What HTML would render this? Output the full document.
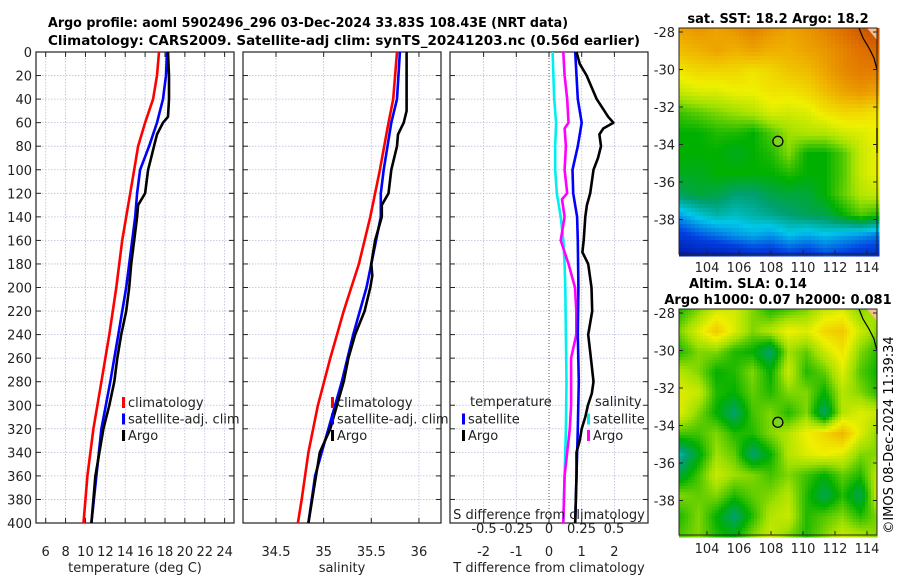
<!DOCTYPE html>
<html><head><meta charset="utf-8">
<style>
html,body{margin:0;padding:0;background:#fff;}
svg{display:block;font-family:"DejaVu Sans","Liberation Sans",sans-serif;}
</style></head>
<body>
<svg id="fig" width="900" height="580" viewBox="0 0 900 580">
<rect width="900" height="580" fill="#fff"/>
<text x="48" y="27" font-size="13" font-weight="bold" textLength="520" lengthAdjust="spacingAndGlyphs">Argo profile: aoml 5902496_296 03-Dec-2024 33.83S 108.43E (NRT data)</text>
<text x="48" y="45" font-size="13" font-weight="bold" textLength="592" lengthAdjust="spacingAndGlyphs">Climatology: CARS2009. Satellite-adj clim: synTS_20241203.nc (0.56d earlier)</text>
<text x="778" y="23" text-anchor="middle" font-size="13" font-weight="bold">sat. SST: 18.2 Argo: 18.2</text>
<text x="748" y="288" text-anchor="middle" font-size="13" font-weight="bold">Altim. SLA: 0.14</text>
<text x="778" y="304" text-anchor="middle" font-size="13" font-weight="bold">Argo h1000: 0.07 h2000: 0.081</text>
<text transform="translate(893,435) rotate(-90)" text-anchor="middle" font-size="13">©IMOS 08-Dec-2024 11:39:34</text>
<g id="panels"></g>
<g id="maps"></g>
</svg>
<script>
// ---------- data ----------
const depthTicks=[0,20,40,60,80,100,120,140,160,180,200,220,240,260,280,300,320,340,360,380,400];
const tempTicks=[6,8,10,12,14,16,18,20,22,24];
const salTicks=[34.5,35,35.5,36];
const tdiffTicks=[-2,-1,0,1,2];
const sdiffTicks=[-0.5,-0.25,0,0.25,0.5];
const sdiffLabels=["-0.5","-0.25","0","0.25","0.5"];

const tClimDepth=[0,20,40,60,80,100,120,140,160,200,240,280,320,360,400];
const tClim=[17.4,17.2,16.8,16.0,15.3,14.9,14.5,14.1,13.7,13.1,12.4,11.6,10.8,10.2,9.8];
const tSatDepth=[0,20,40,60,80,100,120,140,160,180,200,240,280,320,360,400];
const tSat=[18.2,18.1,17.8,17.2,16.4,15.5,15.2,15.0,14.7,14.4,14.1,13.3,12.5,11.6,11.1,10.6];
const tArgoDepth=[0,20,40,55,60,70,80,90,100,120,130,140,160,180,200,220,240,260,280,300,320,340,360,400];
const tArgo=[18.3,18.4,18.4,18.3,17.8,17.2,16.9,16.6,16.3,16.0,15.3,15.2,14.9,14.6,14.4,14.1,13.6,13.2,12.9,12.4,11.8,11.4,11.0,10.6];

const sClimDepth=[0,40,60,100,140,180,220,260,300,340,380,400];
const sClim=[35.77,35.73,35.68,35.59,35.49,35.37,35.21,35.07,34.94,34.84,34.77,34.73];
const sSatDepth=[0,40,60,80,100,120,140,160,200,240,280,320,360,400];
const sSat=[35.80,35.77,35.71,35.67,35.63,35.60,35.60,35.55,35.45,35.31,35.19,35.05,34.91,34.84];
const sArgoDepth=[0,20,50,60,70,80,100,120,130,140,160,180,190,200,220,240,260,280,320,340,360,400];
const sArgo=[35.87,35.87,35.87,35.84,35.78,35.77,35.71,35.68,35.61,35.61,35.54,35.50,35.51,35.49,35.43,35.33,35.26,35.21,35.07,34.96,34.92,34.84];

const dTSatDepth=[0,40,60,80,100,120,140,160,200,240,280,320,360,400];
const dTSat=[0.80,0.88,1.0,0.88,0.72,0.74,0.86,0.88,0.90,0.88,0.91,0.88,0.84,0.80];
const dTArgoDepth=[0,10,20,40,55,60,65,70,80,90,100,120,130,140,160,170,180,200,220,240,260,280,290,300,310,320,330,340,360,400];
const dTArgo=[0.84,0.94,1.15,1.46,1.81,1.97,1.66,1.54,1.59,1.50,1.36,1.26,1.16,1.11,1.06,1.02,1.20,1.30,1.32,1.20,1.28,1.36,1.31,1.19,1.11,1.0,0.94,0.84,0.84,0.80];
const dSSatDepth=[0,40,60,80,100,120,140,160,180,200,240,280,320,360,400];
const dSSat=[0.028,0.04,0.055,0.048,0.048,0.06,0.09,0.11,0.12,0.125,0.13,0.135,0.13,0.12,0.11];
const dSArgoDepth=[0,20,40,60,65,80,100,120,125,140,160,180,200,220,240,260,280,300,320,340,360,400];
const dSArgo=[0.11,0.12,0.14,0.15,0.12,0.13,0.12,0.14,0.10,0.12,0.09,0.15,0.20,0.21,0.21,0.17,0.17,0.17,0.16,0.14,0.12,0.11];

const sstGrid=[
[.80,.82,.80,.82,.85,.82,.80,.82,.85,.88,.92,.95],
[.76,.78,.80,.78,.80,.78,.78,.80,.82,.85,.88,.90],
[.70,.72,.72,.72,.70,.72,.75,.76,.80,.84,.86,.86],
[.64,.66,.66,.68,.68,.70,.70,.72,.76,.80,.82,.80],
[.54,.56,.58,.60,.62,.66,.65,.66,.70,.72,.72,.70],
[.50,.50,.52,.52,.50,.55,.60,.62,.62,.65,.66,.68],
[.50,.50,.50,.48,.50,.52,.58,.50,.50,.55,.64,.68],
[.48,.48,.50,.50,.50,.50,.52,.50,.50,.55,.64,.68],
[.44,.46,.45,.42,.42,.45,.46,.46,.50,.56,.62,.64],
[.30,.35,.38,.36,.38,.40,.42,.44,.45,.50,.55,.52],
[.18,.22,.25,.28,.30,.28,.32,.30,.32,.30,.28,.25],
[.08,.10,.10,.12,.15,.15,.18,.16,.20,.18,.15,.15]];
const slaGrid=[
[.52,.58,.65,.65,.58,.52,.55,.58,.64,.66,.58,.62],
[.58,.66,.74,.66,.58,.62,.68,.66,.72,.74,.64,.58],
[.52,.58,.58,.52,.50,.42,.60,.56,.64,.70,.58,.52],
[.62,.58,.50,.52,.58,.50,.64,.52,.56,.66,.55,.50],
[.66,.64,.52,.50,.56,.52,.58,.58,.50,.62,.58,.52],
[.66,.58,.50,.42,.54,.58,.52,.58,.42,.62,.66,.64],
[.54,.54,.58,.52,.52,.58,.62,.68,.72,.77,.66,.58],
[.38,.48,.60,.56,.42,.50,.62,.66,.68,.66,.58,.58],
[.46,.54,.64,.60,.58,.54,.58,.54,.50,.56,.52,.64],
[.58,.56,.58,.52,.56,.58,.62,.52,.44,.52,.44,.66],
[.52,.58,.50,.42,.52,.62,.64,.52,.55,.58,.52,.58],
[.55,.58,.52,.50,.58,.64,.58,.52,.58,.64,.62,.58]];
const lonTicks=[104,106,108,110,112,114];
const latTicks=[-28,-30,-32,-34,-36,-38];
const argoLon=108.43, argoLat=-33.83;

// ---------- drawing ----------
const NS="http://www.w3.org/2000/svg";
function mk(tag,attrs,parent){const e=document.createElementNS(NS,tag);for(const k in attrs)e.setAttribute(k,attrs[k]);parent.appendChild(e);return e;}
const panelsG=document.getElementById('panels');
const Y0=52,Y1=523;
const yD=d=>Y0+d*(Y1-Y0)/400;
const panels=[
 {x0:36,x1:234,sx:v=>45.7+(v-6)*9.94,ticks:tempTicks,labels:tempTicks.map(String),title:"temperature (deg C)",name:"temperature-panel"},
 {x0:243,x1:441,sx:v=>276+(v-34.5)*95.3,ticks:salTicks,labels:salTicks.map(String),title:"salinity",name:"salinity-panel"},
 {x0:450,x1:648,sx:v=>549+v*32.7,ticks:tdiffTicks,labels:tdiffTicks.map(String),title:"T difference from climatology",name:"difference-panel"}
];
panels.forEach((p,pi)=>{
 const g=mk('g',{},panelsG);
 
 
 depthTicks.forEach(d=>{const l=mk('line',{x1:p.x0,x2:p.x1,y1:yD(d),y2:yD(d),stroke:'#b8bedc','stroke-width':0.8,'stroke-dasharray':'1.5,1.5'},g);
  });
 p.ticks.forEach(v=>{const x=p.sx(v);
  const l=mk('line',{x1:x,x2:x,y1:Y0,y2:Y1,stroke:(pi==2&&v==0)?'#555':'#b8bedc','stroke-width':(pi==2&&v==0)?1:0.8,'stroke-dasharray':(pi==2&&v==0)?'1,2':'1.5,1.5'},g);
  });
 const fr=mk('rect',{x:p.x0,y:Y0,width:p.x1-p.x0,height:Y1-Y0,fill:'none',stroke:'#222','stroke-width':1.2},g);
 
 depthTicks.forEach(d=>{
  mk('line',{x1:p.x0,x2:p.x0+5,y1:yD(d),y2:yD(d),stroke:'#222'},g);
  mk('line',{x1:p.x1-5,x2:p.x1,y1:yD(d),y2:yD(d),stroke:'#222'},g);
 });
 p.ticks.forEach((v,i)=>{const x=p.sx(v);
  mk('line',{x1:x,x2:x,y1:Y1-5,y2:Y1,stroke:'#222'},g);
  mk('line',{x1:x,x2:x,y1:Y0,y2:Y0+5,stroke:'#222'},g);
  const t=mk('text',{x:x,y:556,'text-anchor':'middle','font-size':13,fill:'#222'},g);t.textContent=p.labels[i];
  
 });
 const tt=mk('text',{x:(p.x0+p.x1)/2,y:572,'text-anchor':'middle','font-size':13,fill:'#222'},g);tt.textContent=p.title;
 
});
depthTicks.forEach(d=>{const t=mk('text',{x:32,y:yD(d)+5,'text-anchor':'end','font-size':13,fill:'#222'},panelsG);t.textContent=d;
 });

function line(dep,vals,sx,color,name,w){
 const pts=dep.map((d,i)=>sx(vals[i]).toFixed(1)+','+yD(d).toFixed(1)).join(' ');
 const l=mk('polyline',{points:pts,fill:'none',stroke:color,'stroke-width':w||2.6,'stroke-linejoin':'round'},panelsG);
 
}
const sT=panels[0].sx,sS=panels[1].sx,sDT=panels[2].sx,sDS=v=>549+v*130;
line(tClimDepth,tClim,sT,'#f00','temp-climatology-line');
line(tSatDepth,tSat,sT,'#00f','temp-satellite-line');
line(tArgoDepth,tArgo,sT,'#000','temp-argo-line');
line(sClimDepth,sClim,sS,'#f00','sal-climatology-line');
line(sSatDepth,sSat,sS,'#00f','sal-satellite-line');
line(sArgoDepth,sArgo,sS,'#000','sal-argo-line');
line(dSSatDepth,dSSat,sDS,'#00f0f0','sdiff-satellite-line');
line(dSArgoDepth,dSArgo,sDS,'#f0f','sdiff-argo-line');
line(dTSatDepth,dTSat,sDT,'#00f','tdiff-satellite-line');
line(dTArgoDepth,dTArgo,sDT,'#000','tdiff-argo-line');

const sdl=mk('text',{x:549,y:519,'text-anchor':'middle','font-size':13,fill:'#222'},panelsG);sdl.textContent="S difference from climatology";

sdiffTicks.forEach((v,i)=>{const t=mk('text',{x:sDS(v),y:533,'text-anchor':'middle','font-size':13,fill:'#222'},panelsG);t.textContent=sdiffLabels[i];
 });

function legend(x,y,color,label,name){
 const r=mk('rect',{x:x,y:y-9,width:3,height:11,fill:color},panelsG);
 
 const t=mk('text',{x:x+6,y:y+1,'font-size':13,fill:'#222'},panelsG);t.textContent=label;
 
}
[[122,'#f00','climatology'],[122,'#00f','satellite-adj. clim'],[122,'#000','Argo']].forEach((a,i)=>legend(a[0],406+i*16.5,a[1],a[2],'temp-legend-entry'));
[[331,'#f00','climatology'],[331,'#00f','satellite-adj. clim'],[331,'#000','Argo']].forEach((a,i)=>legend(a[0],406+i*16.5,a[1],a[2],'sal-legend-entry'));
let lt=mk('text',{x:470,y:406,'font-size':13,fill:'#222'},panelsG);lt.textContent='temperature';
lt=mk('text',{x:595,y:406,'font-size':13,fill:'#222'},panelsG);lt.textContent='salinity';
legend(462,422.5,'#00f','satellite','tdiff-legend-entry');
legend(462,439,'#000','Argo','tdiff-legend-entry');
legend(587,422.5,'#00f0f0','satellite','sdiff-legend-entry');
legend(587,439,'#f0f','Argo','sdiff-legend-entry');

// ---------- maps ----------
const stops=[[0,[0,0,139]],[0.2,[0,64,224]],[0.33,[0,200,232]],[0.42,[0,160,112]],[0.5,[0,176,0]],[0.6,[160,224,0]],[0.68,[240,240,0]],[0.78,[240,176,0]],[0.88,[224,112,0]],[1,[176,48,0]]];
function cmap(v){v=Math.max(0,Math.min(1,v));for(let i=1;i<stops.length;i++){if(v<=stops[i][0]){const a=stops[i-1],b=stops[i],t=(v-a[0])/(b[0]-a[0]);return 'rgb('+a[1].map((c,k)=>Math.round(c+(b[1][k]-c)*t)).join(',')+')';}}return 'rgb(176,48,0)';}
const mapsG=document.getElementById('maps');
function drawMap(grid,top,name,smooth){
 const X0=679,X1=877,Yb=top+226;
 const lonX=lon=>707+(lon-104)*16;
 const latY=lat=>top+4+(-28-lat)*18.75;
 const g=mk('g',{},mapsG);
 
 
 const cs=smooth?3:4;const R=grid.length,C=grid[0].length;
 for(let y=top;y<Yb;y+=cs){for(let x=X0;x<X1;x+=cs){
  const gx=(x-X0)/(X1-X0)*(C-1),gy=(y-top)/(Yb-top)*(R-1);
  const i=Math.min(Math.floor(gy),R-2),j=Math.min(Math.floor(gx),C-2),fy=gy-i,fx=gx-j;
  let v=grid[i][j]*(1-fx)*(1-fy)+grid[i][j+1]*fx*(1-fy)+grid[i+1][j]*(1-fx)*fy+grid[i+1][j+1]*fx*fy;
  mk('rect',{x:x,y:y,width:cs+0.5,height:cs+0.5,fill:cmap(v)},g);
 }}
 mk('path',{d:`M${X1-10},${top} L${X1},${top} L${X1},${top+12} Z`,fill:'#f5c090'},g);
 const c=mk('polyline',{points:`${X1-18},${top} ${X1-14},${top+10} ${X1-8},${top+20} ${X1-3},${top+30} ${X1},${top+42}`,fill:'none',stroke:'#000','stroke-width':1.2},g);
 
 mk('line',{x1:X1,x2:X1,y1:top+100,y2:top+125,stroke:'#000','stroke-width':1.5},g);
 mk('rect',{x:X0,y:top,width:X1-X0,height:Yb-top,fill:'none',stroke:'#222','stroke-width':1},g);
 latTicks.forEach(l=>{const y=latY(l);
  mk('line',{x1:X0,x2:X0+4,y1:y,y2:y,stroke:'#222'},g);mk('line',{x1:X1-4,x2:X1,y1:y,y2:y,stroke:'#222'},g);
  const t=mk('text',{x:675,y:y+5,'text-anchor':'end','font-size':13,fill:'#222'},g);t.textContent=l;
  });
 lonTicks.forEach(l=>{const x=lonX(l);
  mk('line',{x1:x,x2:x,y1:Yb-4,y2:Yb,stroke:'#222'},g);
  const t=mk('text',{x:x,y:Yb+18,'text-anchor':'middle','font-size':13,fill:'#222'},g);t.textContent=l;
  });
 const m=mk('circle',{cx:lonX(argoLon),cy:latY(argoLat),r:5,fill:'#7ed321',stroke:'#000','stroke-width':1.3},g);
 
}
drawMap(sstGrid,28,'sst-map',false);
drawMap(slaGrid,309,'sla-map',true);
</script>
</body></html>
